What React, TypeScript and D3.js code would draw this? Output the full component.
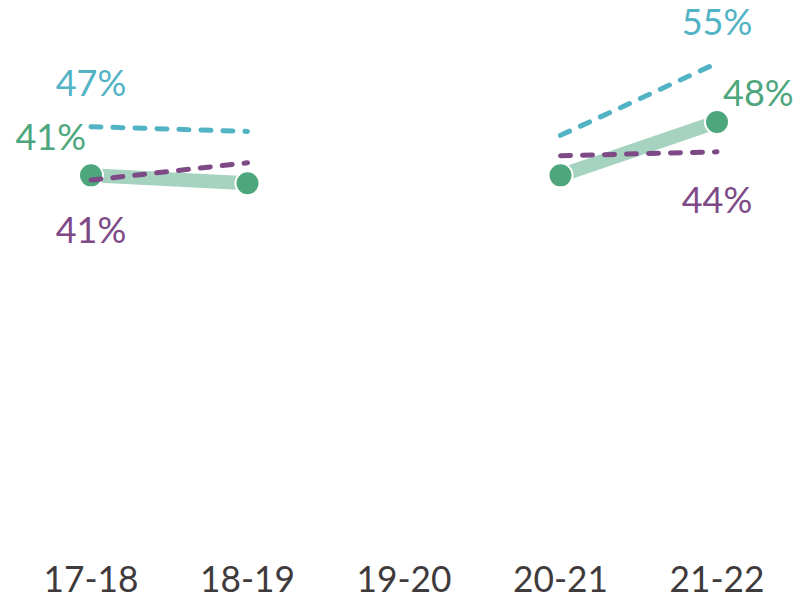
import React from "react";
import * as d3 from "d3";

const categories = ["17-18", "18-19", "19-20", "20-21", "21-22"];
const overall: (number | null)[] = [41.1, 40.1, null, 41.1, 47.9];
const upper: (number | null)[] = [47.3, 46.7, null, 46.2, 55.4];
const lower: (number | null)[] = [40.5, 42.7, null, 43.6, 44.1];

const W = 800;
const H = 600;
const GREEN = "#4ea67c";
const GREEN_LIGHT = "#a6d3bf";
const TEAL = "#52b3c5";
const PURPLE = "#7d4a86";
const FONT = "Lato, 'Open Sans', sans-serif";

type Pt = { cat: string; v: number | null };

const toPts = (vals: (number | null)[]): Pt[] =>
  categories.map((c, i) => ({ cat: c, v: vals[i] }));

export default function App() {
  const x = d3.scalePoint<string>().domain(categories).range([91, 717]);
  const y = d3.scaleLinear().domain([0, 60]).range([498, 27]);

  const line = d3
    .line<Pt>()
    .defined((d) => d.v != null)
    .x((d) => x(d.cat) as number)
    .y((d) => y(d.v as number));

  const g = toPts(overall);
  const t = toPts(upper);
  const p = toPts(lower);
  const pct = (v: number | null) => `${Math.round(v as number)}%`;

  const first = categories[0];
  const last = categories[categories.length - 1];
  const fx = x(first) as number;
  const lx = x(last) as number;

  return (
    <svg
      width={W}
      height={H}
      style={{ position: "absolute", left: 0, top: 0, background: "#fff" }}
    >
      {/* overall series: wide band with round markers */}
      <path d={line(g) || ""} fill="none" stroke="#fff" strokeWidth={17} />
      <path d={line(g) || ""} fill="none" stroke={GREEN_LIGHT} strokeWidth={14} />
      {g
        .filter((d) => d.v != null)
        .map((d) => (
          <circle
            key={d.cat}
            cx={x(d.cat)}
            cy={y(d.v as number)}
            r={12}
            fill={GREEN}
            stroke="#fff"
            strokeWidth={2}
          />
        ))}

      {/* comparison series: dashed */}
      <path
        d={line(t) || ""}
        fill="none"
        stroke={TEAL}
        strokeWidth={5}
        strokeDasharray="10 12"
        strokeLinecap="round"
      />
      <path
        d={line(p) || ""}
        fill="none"
        stroke={PURPLE}
        strokeWidth={5}
        strokeDasharray="10 12"
        strokeLinecap="round"
      />

      {/* end labels */}
      <g fontFamily={FONT} fontSize={36}>
        <text x={fx} y={96} textAnchor="middle" fill={TEAL}>
          {pct(upper[0])}
        </text>
        <text x={fx - 5} y={150} textAnchor="end" fill={GREEN}>
          {pct(overall[0])}
        </text>
        <text x={fx} y={243} textAnchor="middle" fill={PURPLE}>
          {pct(lower[0])}
        </text>
        <text x={lx} y={35} textAnchor="middle" fill={TEAL}>
          {pct(upper[upper.length - 1])}
        </text>
        <text x={lx + 6} y={106} textAnchor="start" fill={GREEN}>
          {pct(overall[overall.length - 1])}
        </text>
        <text x={lx} y={213} textAnchor="middle" fill={PURPLE}>
          {pct(lower[lower.length - 1])}
        </text>
      </g>

      {/* category axis labels */}
      <g fontFamily={FONT} fontSize={37} fill="#3f3a3b">
        {categories.map((c) => (
          <text
            key={c}
            x={x(c)}
            y={592}
            textAnchor="middle"
            textLength={95}
            lengthAdjust="spacingAndGlyphs"
          >
            {c}
          </text>
        ))}
      </g>
    </svg>
  );
}
